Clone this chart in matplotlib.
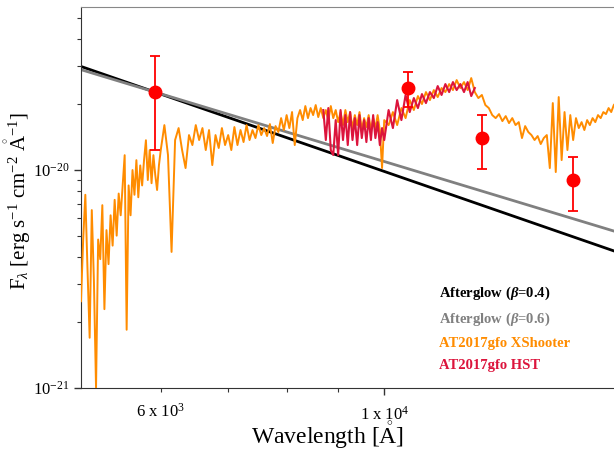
import numpy as np
import matplotlib
matplotlib.use("Agg")
from matplotlib import pyplot as plt

plt.rcParams['font.family'] = ['Liberation Serif', 'DejaVu Serif']
plt.rcParams['mathtext.fontset'] = 'custom'
plt.rcParams['mathtext.rm'] = 'Liberation Serif'
plt.rcParams['mathtext.it'] = 'Liberation Serif:italic'
plt.rcParams['mathtext.bf'] = 'Liberation Serif:bold'
plt.rcParams['mathtext.bfit'] = 'Liberation Serif:bold:italic'

# XShooter spectrum, wavelength [A] and flux [1e-20 erg/s/cm2/A]
xs_wave = [5000, 5025, 5050, 5075, 5100, 5125, 5150, 5175, 5200, 5225, 5250, 5275, 5300, 5325,
           5350, 5375, 5400, 5425, 5450, 5475, 5500, 5525, 5550, 5575, 5600, 5625, 5650, 5675,
           5700, 5725, 5750, 5775, 5800, 5825, 5850, 5875, 5900, 5925, 5950, 5975, 6000,
           6050, 6100, 6150, 6200, 6250, 6300, 6350, 6400, 6450, 6500, 6550, 6600, 6650, 6700,
           6750, 6800, 6850, 6900, 6950, 7000, 7050, 7100, 7150, 7200, 7250, 7300, 7350, 7400,
           7450, 7500, 7550, 7600, 7650, 7700, 7750, 7800, 7850, 7900, 7950, 8000, 8050, 8100,
           8150, 8200, 8250, 8300, 8350, 8400, 8450, 8500, 8550, 8600, 8650, 8700, 8750, 8800,
           8850, 8900, 8950, 9000, 9050, 9100, 9150, 9200, 9250, 9300, 9350, 9400, 9450, 9500,
           9550, 9600, 9650, 9700, 9750, 9800, 9850, 9900, 9950, 10000,
           10100, 10200, 10300, 10400, 10500, 10600, 10700, 10800, 10900, 11000, 11100, 11200,
           11300, 11400, 11500, 11600, 11700, 11800, 11900, 12000, 12100, 12200, 12300, 12400,
           12500, 12600, 12700, 12800, 12900, 13000, 13100, 13200, 13300, 13400, 13500, 13600,
           13700, 13800, 13900, 14000, 14100, 14200, 14300, 14400, 14500, 14600, 14700, 14800,
           14900, 15000, 15100, 15200, 15300, 15400, 15500, 15600, 15700, 15800, 15900, 16000,
           16100, 16200, 16300, 16400, 16500, 16600, 16700, 16800, 16900, 17000]
xs_flux = [0.25, 0.48, 0.77, 0.35, 0.17, 0.655, 0.31, 0.10, 0.48, 0.39, 0.69, 0.23, 0.53, 0.37,
           0.62, 0.45, 0.73, 0.50, 0.78, 0.62, 0.85, 1.17, 0.185, 0.85, 0.62, 1.00, 0.77, 1.11,
           0.75, 1.05, 0.85, 1.11, 1.37, 0.90, 1.235, 0.87, 1.17, 0.95, 0.81, 1.05, 1.235,
           1.608, 1.172, 0.421, 1.373, 1.558, 1.235, 1.021, 1.447, 1.302, 1.608, 1.373, 1.558,
           1.235, 1.526, 1.054, 1.447, 1.262, 1.558, 1.302, 1.447, 1.235, 1.575, 1.302, 1.526,
           1.344, 1.608, 1.373, 1.526, 1.402, 1.608, 1.447, 1.558, 1.432, 1.625, 1.330, 1.591,
           1.494, 1.731, 1.526, 1.787, 1.558, 1.845, 1.302, 1.731, 1.885, 1.695, 1.966, 1.731,
           1.925, 1.787, 1.987, 1.75, 1.925, 1.731, 1.885, 1.695, 1.966, 1.731, 1.885, 1.659,
           1.845, 1.608, 1.885, 1.659, 1.845, 1.558, 1.787, 1.608, 1.845, 1.526, 1.731, 1.575,
           1.787, 1.526, 1.731, 1.558, 1.787, 1.526, 1.021, 1.695,
           1.608, 1.845, 1.608, 1.925, 1.731, 2.094, 1.885, 2.185, 2.008, 2.279, 2.094, 2.328,
           2.162, 2.378, 2.279, 2.480, 2.328, 2.587, 2.378, 2.533, 2.328, 2.642, 2.279, 2.139,
           2.21, 1.987, 1.925, 1.787, 1.731, 1.806, 1.677, 1.768, 1.642, 1.731, 1.608, 1.659,
           1.402, 1.591, 1.494, 1.447, 1.373, 1.432, 1.316, 1.402, 1.447, 1.021, 2.029, 0.979,
           2.162, 1.111, 1.845, 1.235, 1.787, 1.373, 1.731, 1.558, 1.659, 1.526, 1.695, 1.608,
           1.731, 1.659, 1.787, 1.731, 1.845, 1.806, 1.925, 1.845, 1.987, 2.050]

# HST spectrum
hst_wave = [8700, 8750, 8800, 8850, 8900, 8950, 9000, 9050, 9100, 9150, 9200, 9250, 9300, 9350,
            9400, 9450, 9500, 9550, 9600, 9650, 9700, 9750, 9800, 9850, 9900, 9950, 10000,
            10100, 10200, 10300, 10400, 10500, 10600, 10700, 10800, 10900, 11000, 11100, 11200,
            11300, 11400, 11500, 11600, 11700, 11800, 11900, 12000, 12100, 12200, 12300]
hst_flux = [1.885, 1.373, 1.925, 1.235, 1.172, 1.695, 1.172, 1.885, 1.373, 1.787, 1.302, 1.845,
            1.373, 1.731, 1.302, 1.787, 1.402, 1.695, 1.344, 1.731, 1.373, 1.787, 1.402, 1.659,
            1.302, 1.558, 1.373, 1.885, 1.558, 2.094, 1.695, 2.21, 1.845, 2.139, 1.925, 2.231,
            2.029, 2.279, 2.139, 2.428, 2.21, 2.480, 2.279, 2.533, 2.328, 2.480, 2.279, 2.533,
            2.185, 2.378]

# afterglow photometry
phot_wave = [5920, 10570, 12500, 15410]
phot_flux = [2.28, 2.38, 1.40, 0.90]
phot_err = [1.04, 0.44, 0.39, 0.25]

betas = [0.4, 0.6]
beta_colors = ['black', 'grey']

scale = 1e-20

fig = plt.figure(figsize=(6.14, 4.5), dpi=100)
ax = fig.add_axes([0.1319, 0.1378, 0.872, 0.8467])

lam = np.array([5000, 17000])
for b, c in zip(betas, beta_colors):
    # F_lambda ~ lambda^(beta-2), normalised at the first photometric point
    f = phot_flux[0] * scale * (lam / phot_wave[0]) ** (b - 2)
    ax.plot(lam, f, color=c, lw=2, label=r'Afterglow ($\mathbfit{\beta}$=%.1f)' % b, zorder=2)

ax.plot(xs_wave, np.array(xs_flux) * scale, color='darkorange', lw=1.4,
        label='AT2017gfo XShooter', zorder=3)
ax.plot(hst_wave, np.array(hst_flux) * scale, color='crimson', lw=1.5,
        label='AT2017gfo HST', zorder=4)
ax.errorbar(phot_wave, np.array(phot_flux) * scale, yerr=np.array(phot_err) * scale,
            fmt='o', color='red', ms=9, elinewidth=1.3, capsize=3.5, capthick=1.3, zorder=5)

ax.set_xscale('log')
ax.set_yscale('log')
ax.set_xlim(5000, 17000)
ax.set_ylim(1e-21, 5.6e-20)

ax.set_xticks([10000])
ax.set_xticklabels([r'1 x 10$^4$'])
ax.set_xticks([6000, 7000, 8000, 9000], minor=True)
ax.set_xticklabels([r'6 x 10$^3$', '', '', ''], minor=True)
ax.tick_params(axis='both', which='major', length=5, width=1, labelsize=12, color='#333333')
ax.tick_params(axis='both', which='minor', length=3, width=0.8, labelsize=12, color='#333333')
ax.tick_params(axis='x', which='both', pad=8)

for side in ['left', 'bottom']:
    ax.spines[side].set_color('#333333')
ax.spines['top'].set_color('#888888')
ax.spines['right'].set_visible(False)

ax.set_xlabel(r'Wavelength [$\mathring{\rm A}$]', fontsize=17)
ax.set_ylabel(r'F$_\lambda$ [erg s$^{-1}$ cm$^{-2}$ $\mathring{\rm A}^{-1}$]', fontsize=15)
ax.xaxis.set_label_coords(0.46, -0.084)
ax.yaxis.set_label_coords(-0.09, 0.49)

leg = ax.legend(loc='upper left', bbox_to_anchor=(0.655, 0.29), frameon=False,
                handlelength=0, handletextpad=0, borderpad=0, labelspacing=0.6,
                prop={'weight': 'bold', 'size': 10.5})
for h in leg.legend_handles:
    h.set_visible(False)
for t, c in zip(leg.get_texts(), ['black', 'grey', 'darkorange', 'crimson']):
    t.set_color(c)

fig.savefig('out.png', dpi=100)
